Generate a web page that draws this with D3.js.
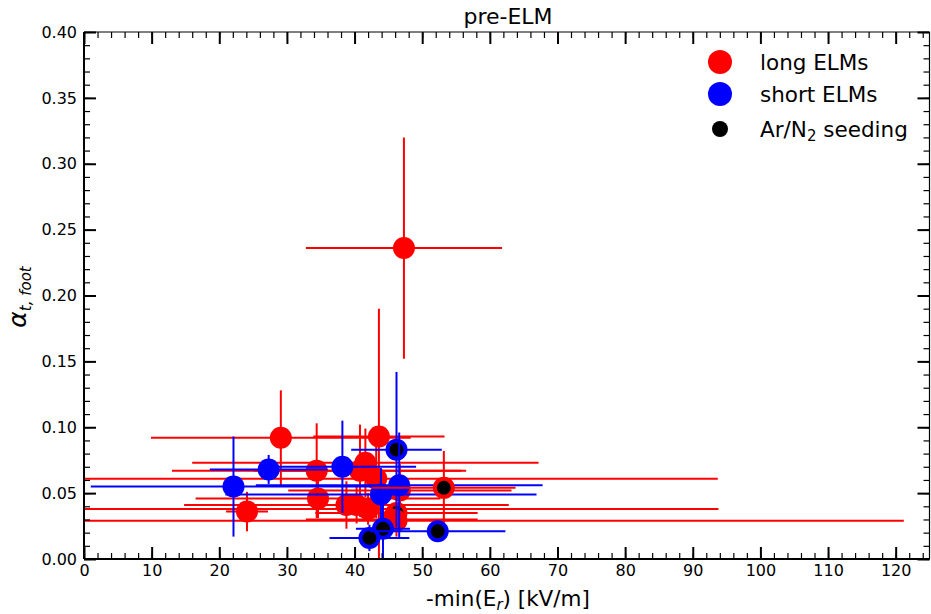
<!DOCTYPE html>
<html>
<head>
<meta charset="utf-8">
<script src="https://cdn.jsdelivr.net/npm/d3@7"></script>
<style>
  body { margin: 0; background: #fff; }
  text { font-family: "DejaVu Sans", sans-serif; }
</style>
</head>
<body>
<svg id="MyGraph" width="931" height="614"></svg>
<script>
// one entry per point, drawn in this order
var ptGroup = ["long","long","long","long","long","long","long","long","long","long","long","long","long","long","long","long",
               "short","short","short","short","short","short","long","short","short","short"];
var ptX    = [47.3, 29.1, 43.6, 34.4, 40.8, 41.6, 43.2, 34.6, 24.1, 38.8, 40.3, 42.0, 46.7, 46.2, 45.5, 46.2,
              22.1, 27.3, 38.2, 46.2, 46.6, 43.9, 53.2, 44.2, 42.2, 52.3];
var ptY    = [0.236, 0.092, 0.093, 0.067, 0.067, 0.073, 0.061, 0.046, 0.036, 0.041, 0.041, 0.038, 0.052, 0.035, 0.030, 0.029,
              0.055, 0.068, 0.070, 0.083, 0.056, 0.049, 0.054, 0.023, 0.016, 0.021];
var ptXErr = [14.5, 19.2, 9.7, 21.4, 15.7, 25.6, 50.5, 18.1, 3.1, 24.0, 22.0, 51.8, 16.5, 12.0, 12.7, 75.0,
              21.1, 8.7, 10.9, 6.7, 21.2, 23.0, 10.6, 4.0, 5.9, 10.0];
var ptYErr = [0.084, 0.036, 0.097, 0.036, 0.035, 0.026, 0.030, 0.015, 0.015, 0.018, 0.014, 0.012, 0.020, 0.008, 0.010, 0.012,
              0.038, 0.011, 0.035, 0.059, 0.040, 0.020, 0.028, 0.023, 0.010, 0.005];
var ptSeed = [0,0,0,0,0,0,0,0,0,0,0,0,0,1,0,0, 0,0,0,1,0,0,1,1,1,1];

var xTicks = [0, 10, 20, 30, 40, 50, 60, 70, 80, 90, 100, 110, 120];
var yTicks = [0, 0.05, 0.10, 0.15, 0.20, 0.25, 0.30, 0.35, 0.40];
var legendLabels = ["long ELMs", "short ELMs", "Ar/N"];

var colors = {long: "#ff0000", short: "#0000ff"};

var svg = d3.select("#MyGraph");
var margin = {top: 32, right: 1.5, bottom: 55, left: 84},
    width = 931 - margin.left - margin.right,
    height = 614 - margin.top - margin.bottom,
    g = svg.append("g").attr("transform", "translate(" + margin.left + "," + margin.top + ")");

var x = d3.scaleLinear().domain([0, 125]).range([0, width]);
var y = d3.scaleLinear().domain([0, 0.40]).range([height, 0]);

svg.append("defs").append("clipPath").attr("id", "clip")
    .append("rect").attr("width", width).attr("height", height);

var pts = ptX.map(function(d, i) {
  return {x: d, y: ptY[i], xe: ptXErr[i], ye: ptYErr[i], grp: ptGroup[i], seed: ptSeed[i]};
});

var plot = g.append("g").attr("clip-path", "url(#clip)");

pts.forEach(function(d) {
  var c = colors[d.grp];
  plot.append("line")
      .attr("x1", x(d.x - d.xe)).attr("x2", x(d.x + d.xe))
      .attr("y1", y(d.y)).attr("y2", y(d.y))
      .attr("stroke", c).attr("stroke-width", 2);
  plot.append("line")
      .attr("x1", x(d.x)).attr("x2", x(d.x))
      .attr("y1", y(d.y - d.ye)).attr("y2", y(d.y + d.ye))
      .attr("stroke", c).attr("stroke-width", 2);
  plot.append("circle")
      .attr("cx", x(d.x)).attr("cy", y(d.y)).attr("r", 11)
      .attr("fill", c);
  if (d.seed) {
    plot.append("circle")
        .attr("cx", x(d.x)).attr("cy", y(d.y)).attr("r", 7)
        .attr("fill", "#000");
  }
});

// axes: ticks inward on all four sides
function styleAxis(sel) {
  sel.select(".domain").remove();
  sel.selectAll(".tick line").attr("stroke", "#000");
  sel.selectAll(".tick text").attr("fill", "#000").style("font-size", "16px")
      .style("font-family", "'DejaVu Sans', sans-serif");
}

var xMinor = d3.range(0, 126, 2);
var yMinor = d3.range(0, 0.4001, 0.01);

g.append("g").attr("transform", "translate(0," + height + ")")
    .call(d3.axisBottom(x).tickValues(xMinor).tickFormat("").tickSize(-6))
    .call(styleAxis).selectAll(".tick line").attr("stroke-width", 1.2);
g.append("g").attr("transform", "translate(0," + height + ")")
    .call(d3.axisBottom(x).tickValues(xTicks).tickFormat(d3.format("d")).tickSize(-12).tickPadding(6))
    .call(styleAxis).selectAll(".tick line").attr("stroke-width", 2);

g.append("g")
    .call(d3.axisTop(x).tickValues(xMinor).tickFormat("").tickSize(-6))
    .call(styleAxis).selectAll(".tick line").attr("stroke-width", 1.2);
g.append("g")
    .call(d3.axisTop(x).tickValues(xTicks).tickFormat("").tickSize(-12))
    .call(styleAxis).selectAll(".tick line").attr("stroke-width", 2);

g.append("g")
    .call(d3.axisLeft(y).tickValues(yMinor).tickFormat("").tickSize(-6))
    .call(styleAxis).selectAll(".tick line").attr("stroke-width", 1.2);
g.append("g")
    .call(d3.axisLeft(y).tickValues(yTicks).tickFormat(d3.format(".2f")).tickSize(-12).tickPadding(7))
    .call(styleAxis).selectAll(".tick line").attr("stroke-width", 2);

g.append("g").attr("transform", "translate(" + width + ",0)")
    .call(d3.axisRight(y).tickValues(yMinor).tickFormat("").tickSize(-6))
    .call(styleAxis).selectAll(".tick line").attr("stroke-width", 1.2);
g.append("g").attr("transform", "translate(" + width + ",0)")
    .call(d3.axisRight(y).tickValues(yTicks).tickFormat("").tickSize(-12))
    .call(styleAxis).selectAll(".tick line").attr("stroke-width", 2);

// spines
g.append("line").attr("x1", 0).attr("x2", width).attr("y1", 0).attr("y2", 0)
    .attr("stroke", "#000").attr("stroke-width", 1.2);
g.append("line").attr("x1", width).attr("x2", width).attr("y1", 0).attr("y2", height)
    .attr("stroke", "#000").attr("stroke-width", 1.2);
g.append("line").attr("x1", 0).attr("x2", width).attr("y1", height).attr("y2", height)
    .attr("stroke", "#000").attr("stroke-width", 2);
g.append("line").attr("x1", 0).attr("x2", 0).attr("y1", 0).attr("y2", height)
    .attr("stroke", "#000").attr("stroke-width", 2);

// title and labels
svg.append("text").attr("x", 508).attr("y", 24).attr("text-anchor", "middle")
    .style("font-size", "22px").text("pre-ELM");

var xl = svg.append("text").attr("x", 508).attr("y", 606).attr("text-anchor", "middle")
    .style("font-size", "21.5px");
xl.append("tspan").text("-min(E");
xl.append("tspan").attr("font-style", "italic").attr("font-size", "15px").attr("dy", 4).text("r");
xl.append("tspan").attr("dy", -4).text(") [kV/m]");

var yl = svg.append("text").attr("transform", "translate(26,297) rotate(-90)")
    .attr("text-anchor", "middle");
yl.append("tspan").attr("font-style", "italic").attr("font-size", "25px").text("\u03b1");
yl.append("tspan").attr("font-style", "italic").attr("font-size", "15px").attr("dy", 5).text("t, foot");

// legend
var legend = svg.append("g");
var legY = [62, 94, 129];
legend.append("circle").attr("cx", 720).attr("cy", legY[0]).attr("r", 12).attr("fill", colors.long);
legend.append("circle").attr("cx", 720).attr("cy", legY[1]).attr("r", 12).attr("fill", colors.short);
legend.append("circle").attr("cx", 720).attr("cy", legY[2]).attr("r", 8).attr("fill", "#000");
legend.append("text").attr("x", 760).attr("y", legY[0] + 7.5).style("font-size", "21.5px").text(legendLabels[0]);
legend.append("text").attr("x", 760).attr("y", legY[1] + 7.5).style("font-size", "21.5px").text(legendLabels[1]);
var lt = legend.append("text").attr("x", 760).attr("y", legY[2] + 7.5).style("font-size", "21.5px");
lt.append("tspan").text(legendLabels[2]);
lt.append("tspan").attr("font-size", "15px").attr("dy", 4).text("2");
lt.append("tspan").attr("dy", -4).text(" seeding");
</script>
</body>
</html>
